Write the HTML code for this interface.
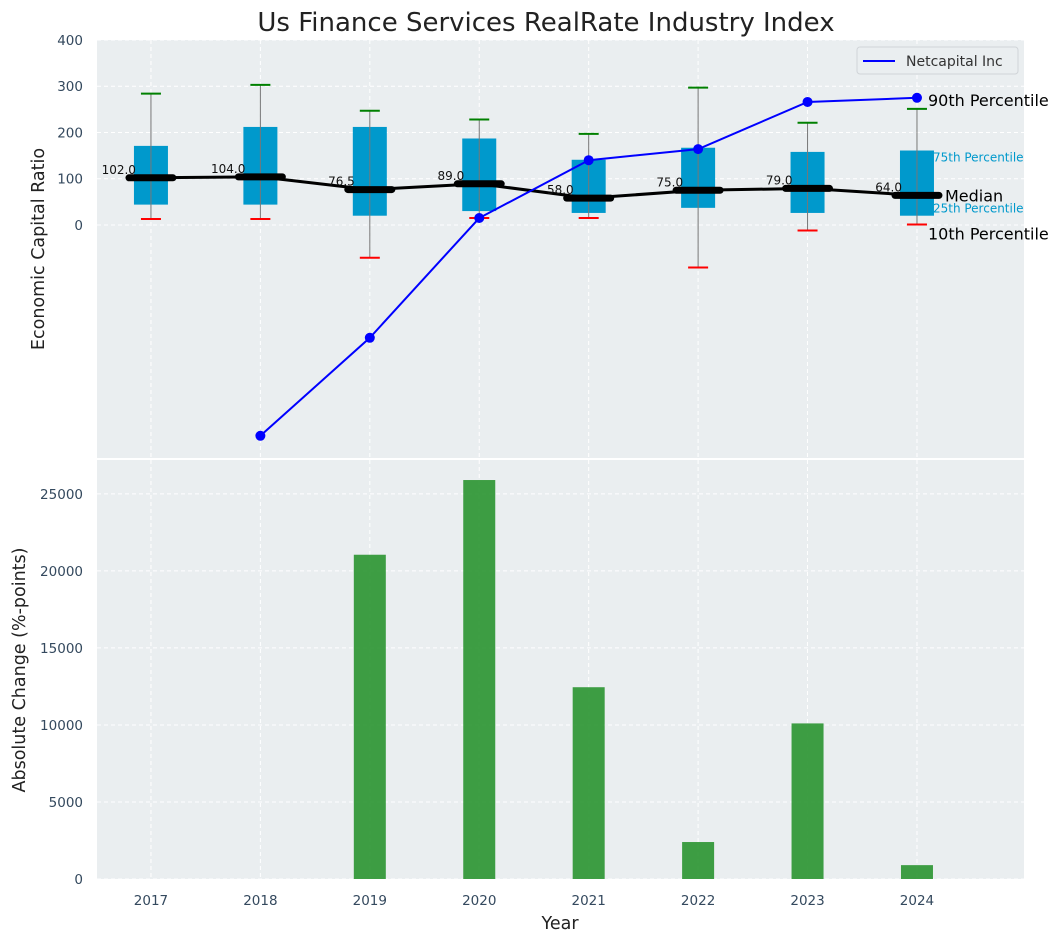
<!DOCTYPE html>
<html><head><meta charset="utf-8"><style>
body{margin:0;background:#fff;}
svg{display:block;font-family:"DejaVu Sans","Liberation Sans",sans-serif;}
</style></head><body>
<svg id="c" width="1063" height="942"></svg>
<script>
const years=[2017,2018,2019,2020,2021,2022,2023,2024];
const q10=[13,13,-71,15,15,-92,-12,1];
const q25=[44,44,20,30,26,37,26,20];
const q50=[102,104,76.5,89,58,75,79,64];
const q75=[171,212,212,187,141,167,158,161];
const q90=[284,303,247,228,197,297,221,251];
const netYears=[2018,2019,2020,2021,2022,2023,2024];
const netVals=[-456,-244,15,140,164,266,275];
const chgYears=[2019,2020,2021,2022,2023,2024];
const chgVals=[21050,25900,12450,2400,10100,900];
const topTicks=[0,100,200,300,400];
const botTicks=[0,5000,10000,15000,20000,25000];

const NS="http://www.w3.org/2000/svg";
const svg=document.getElementById('c');
function el(t,a,p){const e=document.createElementNS(NS,t);for(const k in a)e.setAttribute(k,a[k]);(p||svg).appendChild(e);return e;}
const L=97,R=1024;
const x=v=>L+(v-2016.507)/(2024.978-2016.507)*(R-L);
const T0=40,T1=458;
const yT=v=>T0+(400-v)/(400-(-504))*(T1-T0);
const B0=460,B1=879;
const yB=v=>B1-v/27200*(B1-B0);

let t=el('text',{x:546,y:31,'text-anchor':'middle','font-size':26,fill:'#222'});t.textContent='Us Finance Services RealRate Industry Index';


let p=el('rect',{x:L,y:T0,width:R-L,height:T1-T0,fill:'#eaeef0'});

p=el('rect',{x:L,y:B0,width:R-L,height:B1-B0,fill:'#eaeef0'});


years.forEach(yr=>{
 el('line',{x1:x(yr),x2:x(yr),y1:T0,y2:T1,stroke:'#fff','stroke-dasharray':'4,3','stroke-width':1});
 el('line',{x1:x(yr),x2:x(yr),y1:B0,y2:B1,stroke:'#fff','stroke-dasharray':'4,3','stroke-width':1});
 const tl=el('text',{x:x(yr),y:B1+26,'text-anchor':'middle','font-size':13.5,fill:'#34495e'});tl.textContent=yr;
 
});
topTicks.forEach(v=>{
 el('line',{x1:L,x2:R,y1:yT(v),y2:yT(v),stroke:'#fff','stroke-dasharray':'4,3'});
 const tl=el('text',{x:L-14,y:yT(v)+5,'text-anchor':'end','font-size':13.5,fill:'#34495e'});tl.textContent=v;
 
});
botTicks.forEach(v=>{
 el('line',{x1:L,x2:R,y1:yB(v),y2:yB(v),stroke:'#fff','stroke-dasharray':'4,3'});
 const tl=el('text',{x:L-14,y:yB(v)+5,'text-anchor':'end','font-size':13.5,fill:'#34495e'});tl.textContent=v;
 
});

years.forEach((yr,i)=>{
 const cx=x(yr);
 const b=el('rect',{x:cx-17,y:yT(q75[i]),width:34,height:yT(q25[i])-yT(q75[i]),fill:'#0099cc'});
 
 el('line',{x1:cx,x2:cx,y1:yT(q90[i]),y2:yT(q10[i]),stroke:'#777','stroke-width':1});
 const w1=el('line',{x1:cx-10,x2:cx+10,y1:yT(q90[i]),y2:yT(q90[i]),stroke:'green','stroke-width':2});
 
 const w2=el('line',{x1:cx-10,x2:cx+10,y1:yT(q10[i]),y2:yT(q10[i]),stroke:'red','stroke-width':2});
 
});
const ml=el('polyline',{points:years.map((yr,i)=>x(yr)+','+yT(q50[i])).join(' '),fill:'none',stroke:'#000','stroke-width':3});

years.forEach((yr,i)=>{
 const cx=x(yr);
 const m=el('line',{x1:cx-22,x2:cx+22,y1:yT(q50[i]),y2:yT(q50[i]),stroke:'#000','stroke-width':7,'stroke-linecap':'round'});
 
 const lb=el('text',{x:cx-15,y:yT(q50[i])-4,'text-anchor':'end','font-size':12,fill:'#111'});lb.textContent=q50[i].toFixed(1);
 
});
const nl=el('polyline',{points:netYears.map((yr,i)=>x(yr)+','+yT(netVals[i])).join(' '),fill:'none',stroke:'#0000ff','stroke-width':2});

netYears.forEach((yr,i)=>{
 const c=el('circle',{cx:x(yr),cy:yT(netVals[i]),r:5,fill:'#0000ff'});
 
});
const li=years.length-1, ax=x(years[li]);
[['90th Percentile',ax+11,yT(netVals[netVals.length-1])+8,16,'#000'],
 ['75th Percentile',ax+16,yT(q75[li])+11,12,'#0099cc'],
 ['Median',ax+28,yT(q50[li])+6,16,'#000'],
 ['25th Percentile',ax+16,yT(q25[li])-3,12,'#0099cc'],
 ['10th Percentile',ax+11,yT(q10[li])+15,16,'#000']].forEach(a=>{
 const tx=el('text',{x:a[1],y:a[2],'font-size':a[3],fill:a[4]});tx.textContent=a[0];
 
});
const lg=el('g',{});

el('rect',{x:857,y:47,width:161,height:27,rx:3,fill:'#eaeef0',stroke:'#d0d4d8'},lg);
el('line',{x1:863,x2:895,y1:61,y2:61,stroke:'#0000ff','stroke-width':2},lg);
t=el('text',{x:906,y:66,'font-size':14,fill:'#333'},lg);t.textContent='Netcapital Inc';
chgYears.forEach((yr,i)=>{
 const b=el('rect',{x:x(yr)-16,y:yB(chgVals[i]),width:32,height:yB(0)-yB(chgVals[i]),fill:'#2e9634','fill-opacity':0.92});
 
});
t=el('text',{x:0,y:0,transform:'translate(44,249) rotate(-90)','text-anchor':'middle','font-size':17.5,fill:'#222'});t.textContent='Economic Capital Ratio';

t=el('text',{x:0,y:0,transform:'translate(25,670) rotate(-90)','text-anchor':'middle','font-size':17.5,fill:'#222'});t.textContent='Absolute Change (%-points)';

t=el('text',{x:560,y:929,'text-anchor':'middle','font-size':17.5,fill:'#222'});t.textContent='Year';

</script>
</body></html>
